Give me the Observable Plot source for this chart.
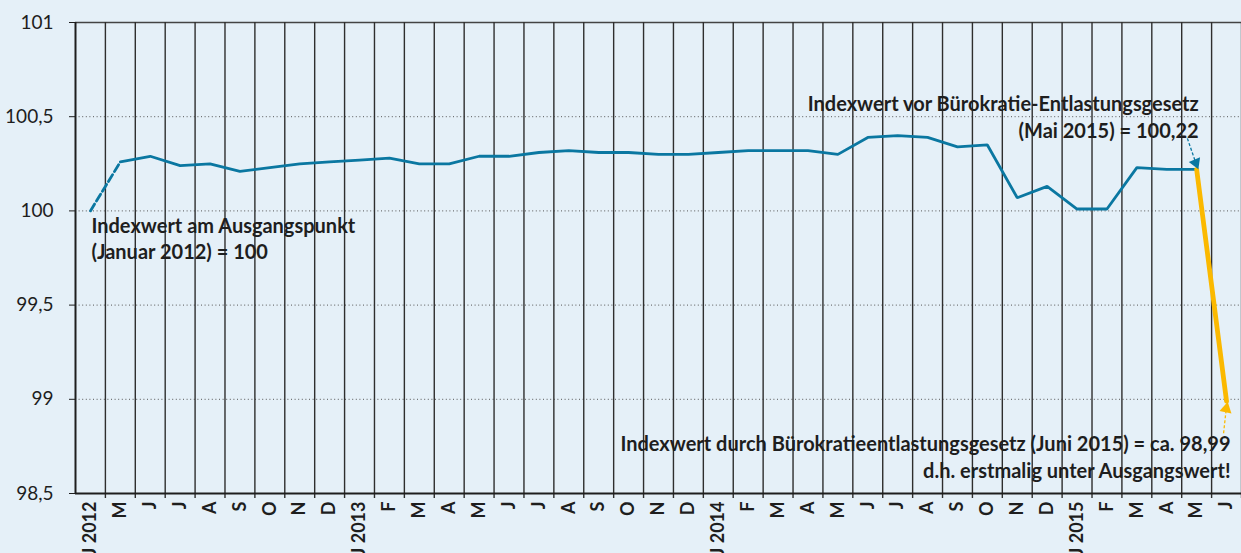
<!DOCTYPE html>
<html>
<head>
<meta charset="utf-8">
<script src="https://cdn.jsdelivr.net/npm/d3@7"></script>
<script src="https://cdn.jsdelivr.net/npm/@observablehq/plot@0.6"></script>
<style>
  html, body { margin: 0; padding: 0; background: #e5f0f8; }
  #chart svg { display: block; }
</style>
</head>
<body>
<div id="chart"></div>
<script>
// Month labels (x axis)
const monthLabels = ["J 2012","M","J","J","A","S","O","N","D",
  "J 2013","F","M","A","M","J","J","A","S","O","N","D",
  "J 2014","F","M","A","M","J","J","A","S","O","N","D",
  "J 2015","F","M","A","M","J"];
// Index values (Jan 2012 = 100)
const indexValues = [100, 100.26, 100.29, 100.24, 100.25, 100.21, 100.23, 100.25, 100.26,
  100.27, 100.28, 100.25, 100.25, 100.29, 100.29, 100.31, 100.32, 100.31, 100.31, 100.30, 100.30,
  100.31, 100.32, 100.32, 100.32, 100.30, 100.39, 100.40, 100.39, 100.34, 100.35, 100.07, 100.13,
  100.01, 100.01, 100.23, 100.22, 100.22, 98.99];
// Y ticks
const yTicks = [98.5, 99, 99.5, 100, 100.5, 101];
const yGrid = [99, 99.5, 100, 100.5];

// Annotation texts
const noteStart = "Indexwert am Ausgangspunkt\n(Januar 2012) = 100";
const noteBefore = "Indexwert vor Bürokratie-Entlastungsgesetz\n(Mai 2015) = 100,22";
const noteAfter = "Indexwert durch Bürokratieentlastungsgesetz (Juni 2015) = ca. 98,99\nd.h. erstmalig unter Ausgangswert!";

const data = indexValues.map((v, i) => ({i, v}));
const dashedPart = data.slice(0, 2);
const bluePart = data.slice(1, 38);
const yellowPart = data.slice(37, 39);
const boundaries = d3.range(monthLabels.length + 1).map(k => k - 0.5);
const deFmt = v => String(v).replace(".", ",");

// annotation arrows (in data units: month index, index value)
const arrowBlue = [{x1: 36.69, y1: 100.385, x2: 36.97, y2: 100.255}];
const arrowYellow = [{x1: 37.9, y1: 98.82, x2: 37.99, y2: 98.95}];

const blue = "#0a77a1";
const yellow = "#fbb900";
const ink = "#1e1e1e";

const chart = Plot.plot({
  width: 1241,
  height: 553,
  marginLeft: 75,
  marginRight: 0,
  marginTop: 22,
  marginBottom: 60,
  style: {background: "#e5f0f8", fontFamily: "Lato, sans-serif", fontSize: "19px", color: ink},
  x: {type: "linear", domain: [-0.5, monthLabels.length - 0.5], axis: null},
  y: {domain: [98.5, 101], axis: null},
  marks: [
    Plot.ruleY(yGrid, {stroke: "#555", strokeDasharray: "1,2.6", strokeWidth: 1}),
    Plot.ruleY([101], {stroke: "#444", strokeWidth: 1.3}),
    Plot.ruleX(boundaries.slice(1), {y1: 101, y2: 98.5, insetBottom: -5, stroke: "#2e2e2e", strokeWidth: 1.4}),
    Plot.ruleX([boundaries[0]], {y1: 101, y2: 98.5, stroke: "#1e1e1e", strokeWidth: 2}),
    Plot.ruleY([98.5], {stroke: "#1e1e1e", strokeWidth: 2}),
    Plot.axisY({ticks: yTicks, tickFormat: deFmt, tickSize: 6, tickPadding: 16, fontSize: 19, stroke: "#1e1e1e"}),
    Plot.axisX({ticks: d3.range(monthLabels.length), tickFormat: i => monthLabels[i], tickRotate: -90,
      tickSize: 0, tickPadding: 8, fontSize: 18, fontWeight: "bold"}),
    Plot.line(dashedPart, {x: "i", y: "v", stroke: blue, strokeWidth: 2.8, strokeDasharray: "8,3.5"}),
    Plot.line(bluePart, {x: "i", y: "v", stroke: blue, strokeWidth: 2.8, strokeLinejoin: "miter"}),
    Plot.line(yellowPart, {x: "i", y: "v", stroke: yellow, strokeWidth: 4.8}),
    Plot.link(arrowBlue, {x1: "x1", y1: "y1", x2: "x2", y2: "y2", stroke: blue, strokeWidth: 1.3, strokeDasharray: "3,2"}),
    Plot.dot(arrowBlue, {x: "x2", y: "y2", symbol: "triangle", r: 4.5, fill: blue, stroke: null, rotate: 158}),
    Plot.link(arrowYellow, {x1: "x1", y1: "y1", x2: "x2", y2: "y2", stroke: yellow, strokeWidth: 1.3, strokeDasharray: "3,2"}),
    Plot.dot(arrowYellow, {x: "x2", y: "y2", symbol: "triangle", r: 4.5, fill: yellow, stroke: null, rotate: 12}),
    Plot.text([data[0]], {x: "i", y: "v", text: () => noteStart, textAnchor: "start", lineAnchor: "top",
      dx: 1, dy: 3, fontSize: 20, fontWeight: "bold", lineHeight: 1.33, fill: ink}),
    Plot.text([data[37]], {x: "i", y: "v", text: () => noteBefore, textAnchor: "end", lineAnchor: "top",
      dx: 2, dy: -77, fontSize: 20, fontWeight: "bold", lineHeight: 1.33, fill: ink}),
    Plot.text([data[38]], {x: "i", y: "v", text: () => noteAfter, textAnchor: "end", lineAnchor: "top",
      dx: 4, dy: 31, fontSize: 20, fontWeight: "bold", lineHeight: 1.33, fill: ink})
  ]
});
document.getElementById("chart").append(chart);
</script>
</body>
</html>
